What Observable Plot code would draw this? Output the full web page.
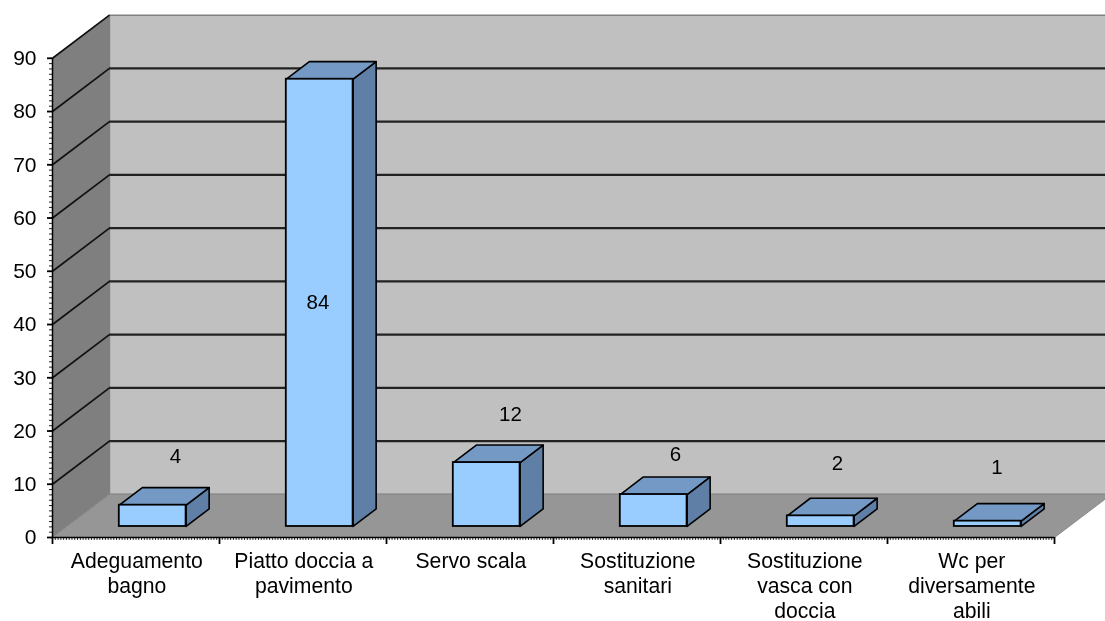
<!DOCTYPE html>
<html><head><meta charset="utf-8">
<script src="https://cdn.jsdelivr.net/npm/d3@7"></script>
<script src="https://cdn.jsdelivr.net/npm/@observablehq/plot@0.6"></script>
<style>html,body{margin:0;padding:0;background:#fff;overflow:hidden}svg{display:block}</style>
</head><body><div id="chart"></div>
<script>
const categories = ["Adeguamento\nbagno","Piatto doccia a\npavimento","Servo scala","Sostituzione\nsanitari","Sostituzione\nvasca con\ndoccia","Wc per\ndiversamente\nabili"];
const values = [4,84,12,6,2,1];
const yTicks = [0,10,20,30,40,50,60,70,80,90];

// 3D projection expressed in data units
const wallDx = 0.341, wallDy = 8.1;
const floorY = 2.07, barInset = 0.4, barW = 0.4, barDx = 0.138, barDy = 3.3;
const n = categories.length;
const font = "'Liberation Sans', Arial, sans-serif";

const polys = (list) => list.flatMap((pts, k) => [...pts, pts[0]].map(([x, y]) => ({k, x, y})));
const poly = (list, o) => Plot.line(polys(list), {x: "x", y: "y", z: "k", ...o});

const bars = values.map((v, i) => ({i, v, x1: i + barInset, x2: i + barInset + barW, y1: floorY, y2: floorY + v}));
const sideFaces = bars.map(b => [[b.x2, b.y1], [b.x2 + barDx, b.y1 + barDy], [b.x2 + barDx, b.y2 + barDy], [b.x2, b.y2]]);
const topFaces = bars.map(b => [[b.x1, b.y2], [b.x2, b.y2], [b.x2 + barDx, b.y2 + barDy], [b.x1 + barDx, b.y2 + barDy]]);

// hand placement of the value labels, as they sit in the picture (data units)
const labelShift = [[0.136, 9.2], [-0.01, -41.9], [0.142, 9], [0.13, 7.5], [0.10, 9.8], [0.056, 10.1]];
const labels = bars.map((b, i) => ({t: String(b.v), x: (b.x1 + b.x2) / 2 + labelShift[i][0], y: b.y2 + labelShift[i][1]}));

const gridVals = yTicks.slice(1);
const chart = Plot.plot({
  width: 1105, height: 621,
  marginLeft: 52, marginRight: 51, marginTop: 57.8, marginBottom: 84,
  style: {background: "#fff", fontFamily: font, overflow: "hidden", filter: "blur(0.45px)"},
  x: {type: "linear", domain: [0, n], axis: null},
  y: {type: "linear", domain: [0, 90], axis: null},
  marks: [
    poly([[[0, 0], [wallDx, wallDy], [wallDx, 90 + wallDy], [0, 90]]], {fill: "#7f7f7f", stroke: "#7f7f7f", strokeWidth: 1}),
    poly([[[wallDx, wallDy], [n + wallDx, wallDy], [n + wallDx, 90 + wallDy], [wallDx, 90 + wallDy]]], {fill: "#c0c0c0", stroke: "#808080", strokeWidth: 1.5}),
    poly([[[0, 0], [n, 0], [n + wallDx, wallDy], [wallDx, wallDy]]], {fill: "#969696", stroke: "#8a8a8a", strokeWidth: 1}),
    Plot.link(gridVals, {x1: 0, y1: d => d, x2: wallDx, y2: d => d + wallDy, stroke: "#111", strokeWidth: 1.7}),
    Plot.ruleY(gridVals.slice(0, -1), {x1: wallDx, x2: n + wallDx, y: d => d + wallDy, stroke: "#222", strokeWidth: 2.2}),
    // bars
    poly(sideFaces, {fill: "#5f7fa6", stroke: "#000", strokeWidth: 1.6, strokeLinejoin: "round"}),
    poly(topFaces, {fill: "#7399c4", stroke: "#000", strokeWidth: 1.6, strokeLinejoin: "round"}),
    Plot.rect(bars, {x1: "x1", x2: "x2", y1: "y1", y2: "y2", fill: "#99ccff", stroke: "#000", strokeWidth: 1.8}),
    Plot.text(labels, {x: "x", y: "y", text: "t", fontSize: 20.5, fill: "#000", fontFamily: font}),
    // axes
    Plot.ruleY(d3.range(0, 91, 1), {x1: -0.018, x2: 0, stroke: "#222", strokeWidth: 1}),
    Plot.ruleX(d3.range(0, n * 60 + 1).map(k => k / 60), {y1: -0.55, y2: 0, stroke: "#222", strokeWidth: 1}),
    Plot.ruleX([0], {y1: 0, y2: 90, stroke: "#000", strokeWidth: 1.5}),
    Plot.ruleY([0], {x1: 0, x2: n, stroke: "#000", strokeWidth: 1.5}),
    Plot.axisY({ticks: yTicks, tickSize: 5, tickPadding: 11, fontSize: 21, stroke: "#000", strokeWidth: 1.8, fill: "#000", label: null, fontFamily: font}),
    Plot.axisX({ticks: d3.range(0, n + 1), tickSize: 7, tickFormat: () => "", stroke: "#000", strokeWidth: 1.8, label: null}),
    Plot.text(categories, {x: (d, i) => i + 0.505, y: 0, text: d => d, dy: 12, lineAnchor: "top", lineHeight: 1.2, fontSize: 21.2, fill: "#000", fontFamily: font})
  ]
});
document.getElementById("chart").append(chart);
</script></body></html>
